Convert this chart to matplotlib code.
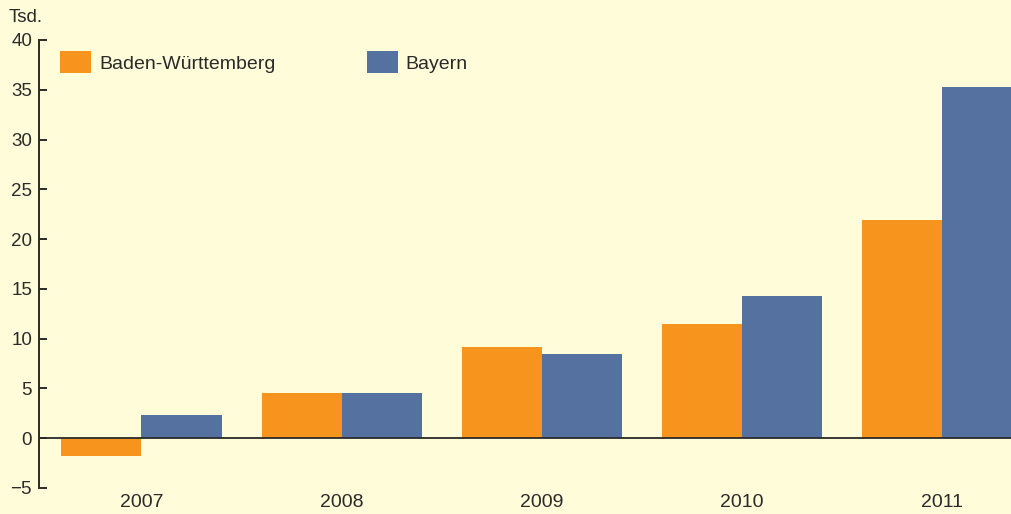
import matplotlib
matplotlib.use("Agg")
import matplotlib.pyplot as plt
import numpy as np

years = ["2007", "2008", "2009", "2010", "2011"]
bw = [-1.8, 4.5, 9.2, 11.5, 21.9]
bayern = [2.3, 4.5, 8.5, 14.3, 35.3]
yticks = [-5, 0, 5, 10, 15, 20, 25, 30, 35, 40]
ytick_labels = ["\u22125", "0", "5", "10", "15", "20", "25", "30", "35", "40"]

bg = "#fffcd9"
orange = "#f7941e"
blue = "#5571a0"
ink = "#2a2a2a"

plt.rcParams["font.family"] = ["Liberation Sans", "DejaVu Sans"]

fig = plt.figure(figsize=(10.11, 5.14), dpi=100, facecolor=bg)
ax = fig.add_axes([39 / 1011, 26 / 514, 972 / 1011, 448 / 514])
ax.set_facecolor(bg)

x = np.arange(len(years))
w = 0.4
ax.bar(x - w / 2, bw, w, color=orange, label="Baden-Württemberg", zorder=2)
ax.bar(x + w / 2, bayern, w, color=blue, label="Bayern", zorder=2)
ax.axhline(0, color=ink, lw=1.3, zorder=3)

ax.set_xlim(-0.512, 4.345)
ax.set_ylim(-5, 40)
ax.set_yticks(yticks)
ax.set_yticklabels(ytick_labels)
ax.set_xticks(x)
ax.set_xticklabels(years)

for s in ["top", "right", "bottom"]:
    ax.spines[s].set_visible(False)
ax.spines["left"].set_color(ink)
ax.spines["left"].set_linewidth(1.4)
ax.tick_params(axis="y", direction="in", length=6, width=1.4, color=ink,
               labelsize=13.5, labelcolor=ink, pad=5)
ax.tick_params(axis="x", length=0, labelsize=14, labelcolor=ink, pad=4)

fig.text(9 / 1011, 1 - 18 / 514, "Tsd.", fontsize=13.5, color=ink, va="center")

ax.legend(loc="upper left", bbox_to_anchor=(0.0136, 0.993), ncol=2, frameon=False,
          fontsize=14, handlelength=1.6, handleheight=1.4, columnspacing=4.7,
          handletextpad=0.4, labelcolor=ink, borderaxespad=0)

fig.savefig("out.png", dpi=100, facecolor=bg)
